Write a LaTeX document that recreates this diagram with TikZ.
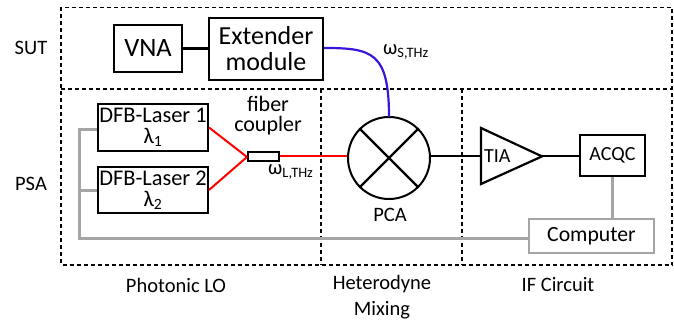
\documentclass[tikz,border=0pt]{standalone}
\usepackage{fontspec}
\setmainfont{Carlito}
\usetikzlibrary{shapes.geometric,calc}
\definecolor{grayline}{RGB}{165,165,165}
\definecolor{blueline}{RGB}{60,20,220}
\tikzset{
 dashbox/.style={draw=black,line width=1.8pt,dash pattern=on 4pt off 3pt},
 blk/.style={draw=black,line width=2pt,inner sep=0pt,align=center},
 greybox/.style={draw=grayline,line width=2pt,inner sep=0pt},
 lbl/.style={inner sep=0pt,align=center,font=\fontsize{20.5}{20.5}\selectfont},
 conn/.style={line width=2.2pt},
 grayconn/.style={draw=grayline,line width=3pt},
 red line/.style={draw=red,line width=2pt},
}
\newcommand{\boxat}[6]{\node[#1,minimum width=#4pt,minimum height=#5pt] (#6) at (#2,#3)}
\begin{document}
\begin{tikzpicture}[x=1pt,y=-1pt]
\useasboundingbox (0,0) rectangle (674,320);
% frames
\coordinate (tl) at (61,7.5); \coordinate (br) at (672,265);
\coordinate (ml) at (61,89); \coordinate (mr) at (672,89);
\coordinate (v1t) at (321,89); \coordinate (v1b) at (321,265);
\coordinate (v2t) at (462,89); \coordinate (v2b) at (462,265);
\draw[dashbox] (tl) rectangle (br);
\draw[dashbox] (ml) -- (mr);
\draw[dashbox] (v1t) -- (v1b);
\draw[dashbox] (v2t) -- (v2b);
% boxes
\boxat{blk,font=\fontsize{26.5}{26.5}\selectfont}{148}{48.5}{68}{47}{vna} {VNA};
\boxat{blk,font=\fontsize{26}{26}\selectfont}{266}{49}{114}{62}{ext} {Extender\\module};
\boxat{blk,font=\fontsize{22.4}{21}\selectfont}{153}{127.5}{110}{47}{l1} {DFB-Laser 1\\λ\textsubscript{1}};
\boxat{blk,font=\fontsize{22.4}{21}\selectfont}{153}{190}{110}{46}{l2} {DFB-Laser 2\\λ\textsubscript{2}};
\boxat{blk,fill=white}{263.5}{156.5}{31}{9}{fc} {};
\node[circle,draw=black,line width=2pt,minimum size=82pt,inner sep=0pt] (pca) at (389,158) {};
\draw[conn] (pca.north west) -- (pca.south east);
\draw[conn] (pca.north east) -- (pca.south west);
\coordinate (ta) at (481,128); \coordinate (tb) at (481,184); \coordinate (tip) at (542,156.4);
\coordinate (tl2) at (481,156.4);
\draw[conn,line join=miter] (ta) -- (tip) -- (tb) -- cycle;
\node[lbl,font=\fontsize{20}{20}\selectfont,anchor=west] (tia) at (484,156) {TIA};
\boxat{blk,font=\fontsize{20}{20}\selectfont}{612.5}{155.5}{65}{41}{acqc} {ACQC};
\boxat{greybox,font=\fontsize{21.7}{21.7}\selectfont}{591.5}{236}{125}{34}{comp} {Computer};
% connectors
\draw[conn] (vna) -- (ext.west |- vna);
\draw[draw=blueline,line width=2.2pt] (ext.east |- 0,48) .. controls (372,48) and (389,52) .. (389,117);
\coordinate (j) at (247,157);
\draw[red line] (l1.east) -- (j);
\draw[red line] (l2.east) -- (j);
\draw[red line] (fc.east) -- (pca.west |- fc.east);
\draw[conn] (pca.east |- tl2) -- (tl2);
\draw[conn] (tip) -- (acqc.west |- tip);
\draw[grayconn] (acqc.south) -- (acqc.south |- comp.north);
\coordinate (bus) at (79,238.4);
\coordinate (bt) at (79.4,129.4);
\coordinate (bm) at (79,191);
\draw[grayconn] (comp.west |- bus) -- (bus -| bt) -- (bt) -- (bt -| l1.west);
\draw[grayconn] (bm) -- (bm -| l2.west);
% labels
\node[lbl] (sut) at (31,48) {SUT};
\node[lbl] (psa) at (31,184) {PSA};
\node[lbl] (plo) at (176,285) {Photonic LO};
\node[lbl] (het) at (382,284) {Heterodyne};
\node[lbl] (mix) at (382,310) {Mixing};
\node[lbl] (ifc) at (558,285) {IF Circuit};
\node[lbl,font=\fontsize{22}{20.5}\selectfont] (fib) at (268,115.5) {fiber\\coupler};
\node[lbl,anchor=west] (wl) at (268,172) {ω\textsubscript{L,THz}};
\node[lbl,anchor=west] (ws) at (383,52) {ω\textsubscript{S,THz}};
\node[lbl] (pcal) at (390,215) {PCA};
\end{tikzpicture}
\end{document}
